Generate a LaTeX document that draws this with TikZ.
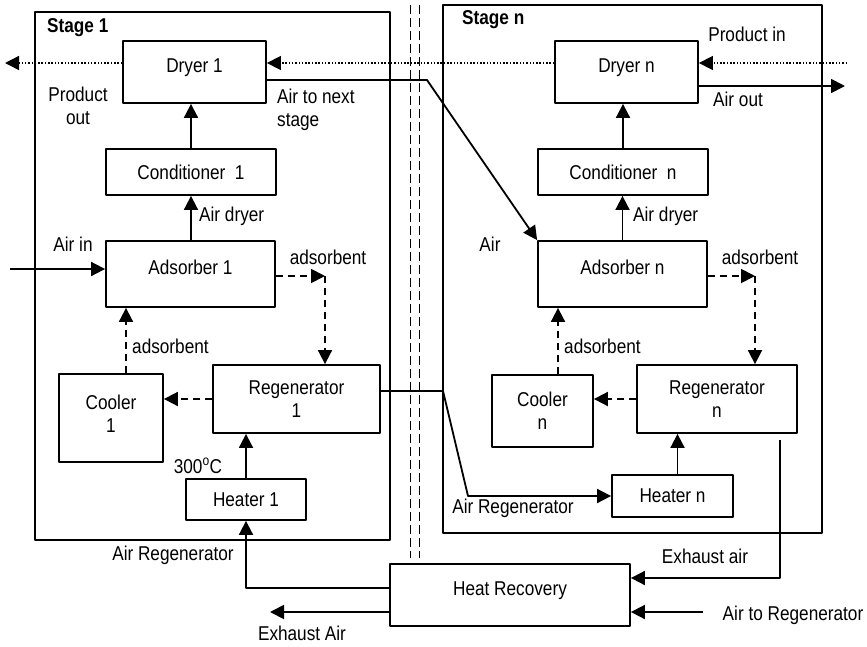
\documentclass[tikz,border=0pt]{standalone}
\usepackage{fontspec}
\setmainfont{Liberation Sans}[FakeStretch=0.86]
\usetikzlibrary{arrows.meta}

\tikzset{
  unit/.style={draw,line width=1.8pt,inner sep=0pt,align=center},
  unithi/.style={unit,text height=15pt,text depth=15pt},
  flow/.style={line width=1.8pt,-{Triangle[length=14pt,width=14pt]}},
  adsflow/.style={flow,dash pattern=on 7pt off 5pt},
  prodflow/.style={flow,line width=1.5pt,dash pattern=on 1.5pt off 1.8pt},
  tag/.style={inner sep=0pt,align=center},
  divider/.style={line width=1.5pt,dash pattern=on 9pt off 4pt},
}

\begin{document}
\begin{tikzpicture}[x=1pt,y=-1pt,line join=bevel,
  every node/.append style={font=\fontsize{20}{23}\selectfont}]

\useasboundingbox (0,0) rectangle (867,646);

% stage frames and divider
\draw[line width=1.6pt] (35,12) rectangle (390,540);
\draw[line width=1.6pt] (443,5) rectangle (822,533);
\draw[divider] (410.7,5) -- (410.7,558);
\draw[divider] (419.3,5) -- (419.3,558);

\node[tag,anchor=west,font=\fontsize{20}{23}\selectfont\bfseries] (s1) at (47,28) {Stage 1};
\node[tag,anchor=west,font=\fontsize{20}{23}\selectfont\bfseries] (sn) at (462,20) {Stage n};

% stage 1
\node[unithi,minimum width=143pt,minimum height=62pt] (d1) at (194.5,72) {Dryer 1};
\node[unit,minimum width=170pt,minimum height=46pt] (c1) at (191,172) {Conditioner~ 1};
\node[unithi,minimum width=169pt,minimum height=66pt] (a1) at (190.5,274) {Adsorber 1};
\node[unit,minimum width=167pt,minimum height=68pt] (r1) at (296.5,399) {Regenerator\\1};
\node[unit,minimum width=104pt,minimum height=88pt,text depth=8pt] (k1) at (111,418) {Cooler\\1};
\node[unit,minimum width=120pt,minimum height=41pt] (h1) at (246,499.5) {Heater 1};

% stage n
\node[unithi,minimum width=143pt,minimum height=62pt] (dn) at (626.5,72) {Dryer n};
\node[unit,minimum width=170pt,minimum height=46pt] (cn) at (623,172) {Conditioner~ n};
\node[unithi,minimum width=169pt,minimum height=66pt] (an) at (622.5,274) {Adsorber n};
\node[unit,minimum width=160pt,minimum height=68pt] (rn) at (717,399) {Regenerator\\n};
\node[unit,minimum width=101pt,minimum height=72pt] (kn) at (542.5,411) {Cooler\\n};
\node[unit,minimum width=121pt,minimum height=42pt] (hn) at (672.5,496) {Heater n};

\node[unithi,minimum width=240pt,minimum height=62pt] (hr) at (510,595) {Heat Recovery};

\coordinate (pout) at (5,63);
\coordinate (pin) at (847,63);
\coordinate (bend1) at (427,80);
\coordinate (airout) at (845,86);
\coordinate (airin) at (10,269);
\coordinate (ads1) at (325,276);
\coordinate (adsn) at (755,276);
\coordinate (kup1) at ([xshift=15pt]k1.north);
\coordinate (kupn) at ([xshift=15.5pt]kn.north);
\coordinate (ar1) at (246,588);
\coordinate (ar2) at (443,391);
\coordinate (ar3) at (468,496);
\coordinate (exh1) at (270,612);
\coordinate (exn) at (780,440);
\coordinate (exn2) at (780,578);
\coordinate (atr) at (703,612);

% product line
\draw[prodflow] (pin) -- (dn.east |- pin);
\draw[prodflow] (dn.west |- pin) -- (d1.east |- pin);
\draw[prodflow] (d1.west |- pout) -- (pout);

% air
\draw[flow] (airin) -- (a1.west |- airin);
\draw[flow] (c1.south |- a1.north) -- (c1.south);
\draw[flow] (c1.north) -- (c1.north |- d1.south);
\draw[flow] ([yshift=-8pt]d1.east) -- (bend1) -- (an.north west);
\draw[flow] (an.north) -- (an.north |- cn.south);
\draw[flow] (cn.north) -- (cn.north |- dn.south);
\draw[flow] ([yshift=-14pt]dn.east) -- (airout);

% adsorbent loop
\draw[adsflow] ([yshift=-2pt]a1.east) -- (ads1);
\draw[adsflow] (ads1) -- (ads1 |- r1.north);
\draw[adsflow] (r1.west) -- (k1.east |- r1.west);
\draw[adsflow] (kup1) -- (kup1 |- a1.south);
\draw[adsflow] ([yshift=-2pt]an.east) -- (adsn);
\draw[adsflow] (adsn) -- (adsn |- rn.north);
\draw[adsflow] (rn.west) -- (kn.east |- rn.west);
\draw[adsflow] (kupn) -- (kupn |- an.south);

% regeneration air
\draw[flow] (h1.north) -- (h1.north |- r1.south);
\draw[flow] ([xshift=5pt]hn.north) -- ([xshift=5pt]hn.north |- rn.south);
\draw[flow] ([yshift=7pt]hr.west) -- (ar1) -- (h1.south);
\draw[flow] ([yshift=-17pt]hr.west) -- (exh1);
\draw[flow] ([yshift=8pt]r1.east) -- (ar2) -- (ar3) -- (hn.west);
\draw[flow] (exn) -- (exn2) -- (hr.east |- exn2);
\draw[flow] (atr) -- (hr.east |- atr);

% labels
\node[tag] (lpo) at (78,106) {Product\\out};
\node[tag,anchor=west,align=left] (lnext) at (277,110) {Air to next\\stage};
\node[tag] (lain) at (73,244) {Air in};
\node[tag,anchor=west] (ldry1) at (199,216) {Air dryer};
\node[tag] (lads1) at (328,257) {adsorbent};
\node[tag,anchor=west] (lret1) at (132,346) {adsorbent};
\node[tag] (l300) at (198,466) {300\textsuperscript{o}C};
\node[tag] (lar1) at (173,555) {Air Regenerator};
\node[tag] (lex1) at (302,633) {Exhaust Air};

\node[tag] (lpin) at (747,34) {Product in};
\node[tag] (laout) at (738,99) {Air out};
\node[tag] (lair) at (490,244) {Air};
\node[tag,anchor=west] (ldryn) at (633,216) {Air dryer};
\node[tag] (ladsn) at (760,257) {adsorbent};
\node[tag,anchor=west] (lretn) at (564,346) {adsorbent};
\node[tag] (larn) at (513,508) {Air Regenerator};
\node[tag] (lexn) at (705,556) {Exhaust air};
\node[tag] (latr) at (793,615) {Air to Regenerator};

\end{tikzpicture}
\end{document}
